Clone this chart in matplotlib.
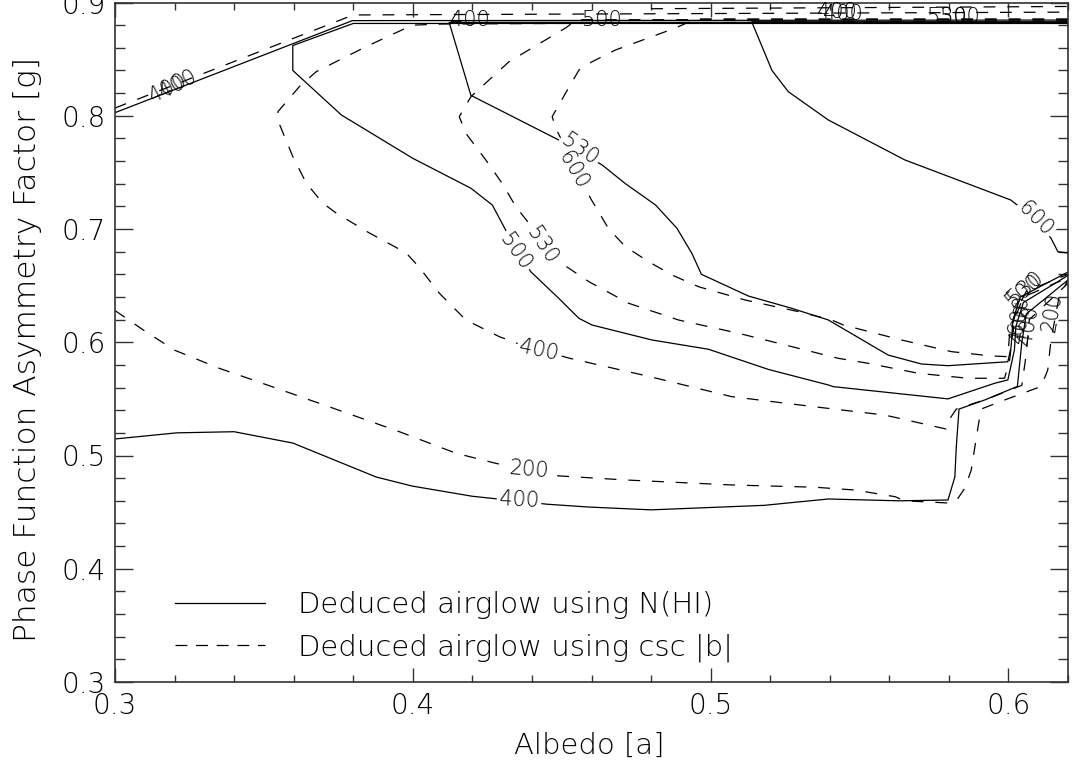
import numpy as np
import matplotlib.pyplot as plt
from matplotlib.ticker import MultipleLocator
from matplotlib.lines import Line2D

plt.rcParams['font.family'] = ['DejaVu Sans']
plt.rcParams['font.weight'] = 'light'
plt.rcParams['axes.labelweight'] = 'light'

# ---- contours deduced from N(HI)  (solid) -------------------------------
nhi_400_top_x = [0.300, 0.3797, 0.620]
nhi_400_top_y = [0.8027, 0.8840, 0.8845]

nhi_400_x = [0.300, 0.3207, 0.340, 0.3597, 0.3877, 0.3998, 0.420, 0.445, 0.459, 0.480,
             0.518, 0.5395, 0.563, 0.5797, 0.582, 0.5825, 0.5834, 0.592, 0.603, 0.6045,
             0.606, 0.620]
nhi_400_y = [0.5146, 0.520, 0.521, 0.511, 0.481, 0.473, 0.464, 0.457, 0.4545, 0.452,
             0.456, 0.4616, 0.460, 0.4607, 0.481, 0.5078, 0.541, 0.549, 0.561, 0.600,
             0.625, 0.655]

nhi_500_x = [0.620, 0.380, 0.3597, 0.3597, 0.376, 0.400, 0.4195, 0.4267, 0.4318, 0.4396,
             0.449, 0.4558, 0.4602, 0.4803, 0.4993, 0.5194, 0.5395, 0.5412, 0.5797,
             0.5954, 0.5998, 0.602, 0.6025, 0.605, 0.620]
nhi_500_y = [0.8815, 0.8815, 0.862, 0.840, 0.8007, 0.7624, 0.736, 0.7212, 0.696, 0.6623,
             0.6388, 0.6211, 0.6152, 0.602, 0.5938, 0.576, 0.5623, 0.5608, 0.550,
             0.5638, 0.5667, 0.593, 0.614, 0.635, 0.659]

nhi_530_x = [0.620, 0.4122, 0.4195, 0.449, 0.4636, 0.4714, 0.4815, 0.4887, 0.4937, 0.4969,
             0.5127, 0.5272, 0.5395, 0.5596, 0.5708, 0.5797, 0.5998, 0.6009, 0.6015,
             0.604, 0.620]
nhi_530_y = [0.8825, 0.8825, 0.818, 0.7786, 0.7565, 0.740, 0.7212, 0.7006, 0.6785, 0.660,
             0.6408, 0.630, 0.6197, 0.5887, 0.5808, 0.5793, 0.5828, 0.596, 0.6197,
             0.640, 0.662]

nhi_600_x = [0.620, 0.5138, 0.5206, 0.5261, 0.5395, 0.5652, 0.6008, 0.6089, 0.6143,
             0.6166, 0.620]
nhi_600_y = [0.883, 0.883, 0.840, 0.8212, 0.7963, 0.761, 0.7256, 0.7088, 0.6918,
             0.680, 0.6788]

# ---- contours deduced from csc|b|  (dashed) -----------------------------
csc_200_x = [0.300, 0.3094, 0.320, 0.335, 0.346, 0.354, 0.373, 0.3955, 0.4145, 0.428,
             0.449, 0.4714, 0.507, 0.535, 0.5485, 0.562, 0.565, 0.573, 0.580, 0.5825,
             0.5853, 0.5875, 0.5898, 0.5908, 0.5987, 0.611, 0.6132, 0.6143, 0.617, 0.620]
csc_200_y = [0.628, 0.611, 0.593, 0.577, 0.567, 0.5596, 0.542, 0.521, 0.502, 0.493,
             0.482, 0.4784, 0.474, 0.472, 0.4695, 0.4636, 0.460, 0.459, 0.458, 0.460,
             0.471, 0.487, 0.5254, 0.541, 0.549, 0.561, 0.5755, 0.602, 0.640, 0.655]

csc_400_top_x = [0.300, 0.380, 0.620]
csc_400_top_y = [0.8068, 0.889, 0.8915]

csc_400_x = [0.620, 0.410, 0.3998, 0.3843, 0.3676, 0.362, 0.3547, 0.3553, 0.3597, 0.3642,
             0.3697, 0.3743, 0.3854, 0.3977, 0.402, 0.4089, 0.4178, 0.429, 0.4346,
             0.4524, 0.479, 0.507, 0.535, 0.5585, 0.5697, 0.579, 0.5807, 0.5825, 0.593,
             0.6045, 0.606, 0.607, 0.620]
csc_400_y = [0.8838, 0.881, 0.880, 0.861, 0.839, 0.826, 0.8036, 0.792, 0.764, 0.7406,
             0.723, 0.714, 0.6965, 0.679, 0.6667, 0.6433, 0.6197, 0.605, 0.5994,
             0.586, 0.570, 0.552, 0.543, 0.5357, 0.529, 0.5234, 0.534, 0.541, 0.550,
             0.562, 0.590, 0.620, 0.652]

csc_500_x = [0.480, 0.620]
csc_500_y = [0.8945, 0.8965]

csc_530_x = [0.620, 0.455, 0.4513, 0.4323, 0.4256, 0.4195, 0.4156, 0.4178, 0.4245, 0.430,
             0.4346, 0.439, 0.4508, 0.4591, 0.4725, 0.4893, 0.5094, 0.5317, 0.5429,
             0.5529, 0.5697, 0.5864, 0.5987, 0.6004, 0.602, 0.605, 0.620]
csc_530_y = [0.8848, 0.8848, 0.8775, 0.8477, 0.8316, 0.8168, 0.7992, 0.7845, 0.761, 0.7403,
             0.7197, 0.705, 0.6682, 0.6535, 0.6344, 0.6196, 0.6079, 0.5932, 0.5858,
             0.5814, 0.5726, 0.5682, 0.5682, 0.5843, 0.620, 0.640, 0.657]

csc_600_x = [0.620, 0.495, 0.4882, 0.468, 0.4602, 0.4558, 0.4513, 0.4468, 0.448, 0.4597,
             0.4658, 0.4714, 0.4792, 0.487, 0.496, 0.5116, 0.5295, 0.5406, 0.5446,
             0.5641, 0.5809, 0.5942, 0.5998, 0.6004, 0.603, 0.606, 0.620]
csc_600_y = [0.8855, 0.8855, 0.8775, 0.858, 0.8477, 0.8404, 0.820, 0.7992, 0.789, 0.727,
             0.700, 0.6844, 0.6711, 0.6594, 0.649, 0.6373, 0.627, 0.6197, 0.6152,
             0.602, 0.5917, 0.5879, 0.5873, 0.608, 0.630, 0.645, 0.660]

# ---- contour level labels: text, x, y, rotation, white background --------
lab_text = ['400', '200', '400', '500', '530', '530', '600', '600',
            '400', '400', '400', '500', '400', '400', '530', '500',
            '500', '530', '600', '400', '400', '200']
lab_x = [0.4357, 0.4390, 0.4424, 0.4343, 0.4434, 0.4560, 0.4540, 0.6089,
         0.3178, 0.3210, 0.4193, 0.4635, 0.5425, 0.5445, 0.5794, 0.5838,
         0.6049, 0.6058, 0.6035, 0.6040, 0.6068, 0.6145]
lab_y = [0.4607, 0.4870, 0.5930, 0.6797, 0.6859, 0.7700, 0.7520, 0.7088,
         0.8245, 0.8280, 0.8848, 0.8848, 0.8915, 0.8900, 0.8875, 0.8875,
         0.6460, 0.6480, 0.6250, 0.6170, 0.6150, 0.6260]
lab_rot = [-3, -5, -12, -55, -57, -35, -60, -45,
           28, 28, 0, 0, 0, 0, 0, 0,
           40, 40, 80, 80, 80, 80]
lab_box = [True, True, True, True, True, True, True, True,
           False, False, False, False, False, False, False, False,
           False, False, False, False, False, False]

legend_labels = ['Deduced airglow using N(HI)', 'Deduced airglow using csc |b|']

# -------------------------------------------------------------------------
ink = 'black'
fs = 20
fig = plt.figure(figsize=(10.72, 7.72), dpi=100)
ax = fig.add_axes([115 / 1072, 90 / 772, 953 / 1072, 679.5 / 772])

solid = [(nhi_400_top_x, nhi_400_top_y), (nhi_400_x, nhi_400_y), (nhi_500_x, nhi_500_y),
         (nhi_530_x, nhi_530_y), (nhi_600_x, nhi_600_y)]
dashed = [(csc_200_x, csc_200_y), (csc_400_top_x, csc_400_top_y), (csc_400_x, csc_400_y),
          (csc_500_x, csc_500_y), (csc_530_x, csc_530_y), (csc_600_x, csc_600_y)]

for xs, ys in solid:
    ax.plot(xs, ys, color='black', lw=0.9, solid_joinstyle='miter', zorder=2)
for xs, ys in dashed:
    ax.plot(xs, ys, color='black', lw=0.9, dashes=(9.5, 9.5), zorder=2)

for t, x, y, r, b in zip(lab_text, lab_x, lab_y, lab_rot, lab_box):
    kw = dict(boxstyle='square,pad=0.12', fc='white', ec='none') if b else None
    ax.text(x, y, t, rotation=r, ha='center', va='center', fontsize=15,
            color=ink, bbox=kw, zorder=3, rotation_mode='anchor')

ax.set_xlim(0.3, 0.62)
ax.set_ylim(0.3, 0.9)
ax.set_xticks([0.3, 0.4, 0.5, 0.6])
ax.set_yticks([0.3, 0.4, 0.5, 0.6, 0.7, 0.8, 0.9])
ax.xaxis.set_minor_locator(MultipleLocator(0.02))
ax.yaxis.set_minor_locator(MultipleLocator(0.02))
ax.tick_params(which='both', direction='in', top=True, right=True, width=1.0,
               color='#333333', labelsize=fs, labelcolor=ink, pad=7)
ax.tick_params(axis='x', which='major', length=10)
ax.tick_params(axis='x', which='minor', length=5)
ax.tick_params(axis='y', which='major', length=13)
ax.tick_params(axis='y', which='minor', length=7)
for s in ax.spines.values():
    s.set_linewidth(1.2)
    s.set_color('#333333')

ax.set_xlabel('Albedo [a]', fontsize=21, color=ink, fontweight='light')
ax.set_ylabel('Phase Function Asymmetry Factor [g]', fontsize=22.5, color=ink,
              fontweight='light')
ax.xaxis.set_label_coords(0.498, -0.073)
ax.yaxis.set_label_coords(-0.077, 0.49)

handles = [Line2D([], [], color='black', lw=0.9),
           Line2D([], [], color='black', lw=0.9, dashes=(9.5, 7))]
ax.legend(handles, legend_labels, loc='upper left', bbox_to_anchor=(0.063, 0.134),
          frameon=False, fontsize=21, handlelength=3.1, handletextpad=1.1,
          labelspacing=0.5, borderpad=0, borderaxespad=0, labelcolor=ink)

fig.savefig('out.png', dpi=100)
